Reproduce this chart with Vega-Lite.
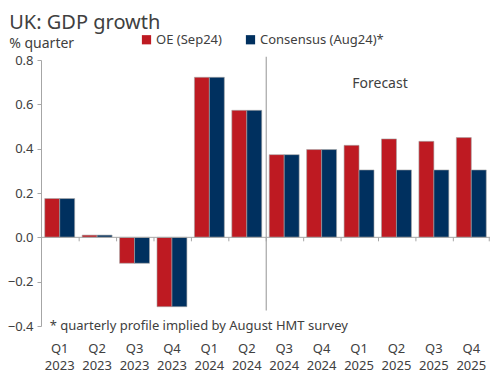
{
  "$schema": "https://vega.github.io/schema/vega-lite/v6.json",
  "width": 449,
  "height": 266,
  "autosize": "none",
  "padding": {"left": 41, "top": 60, "right": 10, "bottom": 66},
  "config": {
    "font": "Noto Sans",
    "view": {"stroke": null},
    "axis": {"labelColor": "#404040", "titleColor": "#404040", "domainColor": "#A6A6A6", "tickColor": "#A6A6A6", "grid": false},
    "text": {"color": "#404040"}
  },
  "title": {
    "text": "UK: GDP growth",
    "subtitle": "% quarter",
    "anchor": "start",
    "frame": "bounds",
    "fontSize": 20,
    "fontWeight": "normal",
    "color": "#404040",
    "subtitleFontSize": 14,
    "subtitleColor": "#404040",
    "subtitlePadding": 4,
    "offset": -18,
    "dx": 2
  },
  "datasets": {
    "gdp": [
      {"quarter": "Q1 2023", "series": "OE (Sep24)", "value": 0.175},
      {"quarter": "Q1 2023", "series": "Consensus (Aug24)*", "value": 0.175},
      {"quarter": "Q2 2023", "series": "OE (Sep24)", "value": 0.01},
      {"quarter": "Q2 2023", "series": "Consensus (Aug24)*", "value": 0.01},
      {"quarter": "Q3 2023", "series": "OE (Sep24)", "value": -0.117},
      {"quarter": "Q3 2023", "series": "Consensus (Aug24)*", "value": -0.117},
      {"quarter": "Q4 2023", "series": "OE (Sep24)", "value": -0.313},
      {"quarter": "Q4 2023", "series": "Consensus (Aug24)*", "value": -0.313},
      {"quarter": "Q1 2024", "series": "OE (Sep24)", "value": 0.722},
      {"quarter": "Q1 2024", "series": "Consensus (Aug24)*", "value": 0.722},
      {"quarter": "Q2 2024", "series": "OE (Sep24)", "value": 0.573},
      {"quarter": "Q2 2024", "series": "Consensus (Aug24)*", "value": 0.573},
      {"quarter": "Q3 2024", "series": "OE (Sep24)", "value": 0.373},
      {"quarter": "Q3 2024", "series": "Consensus (Aug24)*", "value": 0.373},
      {"quarter": "Q4 2024", "series": "OE (Sep24)", "value": 0.396},
      {"quarter": "Q4 2024", "series": "Consensus (Aug24)*", "value": 0.396},
      {"quarter": "Q1 2025", "series": "OE (Sep24)", "value": 0.415},
      {"quarter": "Q1 2025", "series": "Consensus (Aug24)*", "value": 0.304},
      {"quarter": "Q2 2025", "series": "OE (Sep24)", "value": 0.444},
      {"quarter": "Q2 2025", "series": "Consensus (Aug24)*", "value": 0.304},
      {"quarter": "Q3 2025", "series": "OE (Sep24)", "value": 0.433},
      {"quarter": "Q3 2025", "series": "Consensus (Aug24)*", "value": 0.304},
      {"quarter": "Q4 2025", "series": "OE (Sep24)", "value": 0.45},
      {"quarter": "Q4 2025", "series": "Consensus (Aug24)*", "value": 0.304}
    ]
  },
  "layer": [
    {
      "data": {"name": "gdp"},
      "mark": {"type": "bar", "stroke": "#A6A6A6", "strokeWidth": 0.6},
      "encoding": {
        "x": {
          "field": "quarter", "type": "nominal", "sort": null,
          "scale": {
            "domain": ["Q1 2023", "Q2 2023", "Q3 2023", "Q4 2023", "Q1 2024", "Q2 2024", "Q3 2024", "Q4 2024", "Q1 2025", "Q2 2025", "Q3 2025", "Q4 2025"],
            "paddingInner": 0.2, "paddingOuter": 0.1
          },
          "axis": {
            "orient": "bottom", "title": null, "domain": false, "ticks": false,
            "labelAngle": 0, "labelFontSize": 13, "labelPadding": 16, "labelLineHeight": 17,
            "labelExpr": "split(datum.label, ' ')"
          }
        },
        "xOffset": {"field": "series", "type": "nominal", "sort": ["OE (Sep24)", "Consensus (Aug24)*"]},
        "y": {
          "field": "value", "type": "quantitative",
          "scale": {"domain": [-0.4, 0.8], "nice": false, "zero": false},
          "axis": {
            "title": null, "values": [-0.4, -0.2, 0, 0.2, 0.4, 0.6, 0.8], "format": ".1f",
            "labelFontSize": 13, "tickSize": 4, "labelPadding": 4
          }
        },
        "color": {
          "field": "series", "type": "nominal",
          "sort": ["OE (Sep24)", "Consensus (Aug24)*"],
          "scale": {"domain": ["OE (Sep24)", "Consensus (Aug24)*"], "range": ["#BE1A22", "#00305F"]},
          "legend": {
            "title": null, "orient": "none", "direction": "horizontal",
            "legendX": 99, "legendY": -27,
            "symbolType": "square", "symbolSize": 85, "symbolStrokeWidth": 0,
            "labelFontSize": 13, "labelColor": "#404040", "columnPadding": 22, "labelOffset": 3
          }
        }
      }
    },
    {
      "data": {"values": [{"label": "zero"}]},
      "mark": {"type": "rule", "color": "#A6A6A6", "strokeWidth": 1},
      "encoding": {"y": {"datum": 0, "type": "quantitative"}}
    },
    {
      "data": {"name": "gdp"},
      "transform": [{"filter": "datum.series === 'OE (Sep24)' && datum.quarter !== 'Q1 2023'"}],
      "mark": {"type": "rule", "color": "#A6A6A6", "strokeWidth": 1},
      "encoding": {
        "x": {"field": "quarter", "type": "nominal", "sort": null, "bandPosition": -0.1},
        "y": {"datum": 0, "type": "quantitative"},
        "y2": {"datum": -0.018}
      }
    },
    {
      "data": {"name": "gdp"},
      "transform": [{"filter": "datum.series === 'OE (Sep24)' && datum.quarter === 'Q4 2025'"}],
      "mark": {"type": "rule", "color": "#A6A6A6", "strokeWidth": 1},
      "encoding": {
        "x": {"field": "quarter", "type": "nominal", "sort": null, "bandPosition": 1.1},
        "y": {"datum": 0, "type": "quantitative"},
        "y2": {"datum": -0.018}
      }
    },
    {
      "data": {"values": [{"quarter": "Q3 2024", "top": 0.815, "bottom": -0.33}]},
      "mark": {"type": "rule", "color": "#A6A6A6", "strokeWidth": 1.2},
      "encoding": {
        "x": {"field": "quarter", "type": "nominal", "sort": null, "bandPosition": -0.1},
        "y": {"field": "top", "type": "quantitative"},
        "y2": {"field": "bottom"}
      }
    },
    {
      "data": {"values": [{"quarter": "Q2 2025", "value": 0.69, "label": "Forecast"}]},
      "mark": {"type": "text", "fontSize": 14, "align": "center", "baseline": "middle"},
      "encoding": {
        "x": {"field": "quarter", "type": "nominal", "sort": null, "bandPosition": -0.05},
        "y": {"field": "value", "type": "quantitative"},
        "text": {"field": "label"}
      }
    },
    {
      "data": {"values": [{"quarter": "Q1 2023", "value": -0.4, "label": "* quarterly profile implied by August HMT survey"}]},
      "mark": {"type": "text", "fontSize": 13, "align": "left", "baseline": "middle", "dx": 5},
      "encoding": {
        "x": {"field": "quarter", "type": "nominal", "sort": null, "bandPosition": 0},
        "y": {"field": "value", "type": "quantitative"},
        "text": {"field": "label"}
      }
    }
  ]
}
